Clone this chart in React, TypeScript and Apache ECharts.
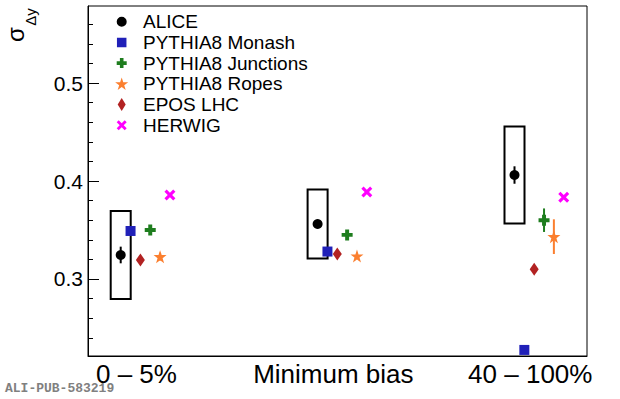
import React, { useEffect, useRef } from 'react';
import * as echarts from 'echarts';

const categories = ['0 – 5%', 'Minimum bias', '40 – 100%'];
const aliceValues = [0.3245, 0.3561, 0.4061];
const aliceStat = [0.0085, 0.003, 0.0089];
const aliceSyst = [0.045, 0.0352, 0.0495];
const monashValues = [0.349, 0.328, 0.2276];
const junctionsValues = [0.35, 0.345, 0.36];
const junctionsErr = [0.002, 0.002, 0.012];
const ropesValues = [0.3228, 0.3235, 0.3432];
const ropesErr = [0.004, 0.002, 0.0177];
const eposValues = [0.3194, 0.3255, 0.3099];
const herwigValues = [0.3857, 0.3888, 0.3834];
const yMajorTicks = [0.3, 0.4, 0.5];
const yMinorTicks = [0.24, 0.26, 0.28, 0.32, 0.34, 0.36, 0.38, 0.42, 0.44, 0.46, 0.48, 0.52, 0.54, 0.56];

const X_MIN = -0.1661;
const X_MAX = 2.3682;
const Y_MIN = 0.2214;
const Y_MAX = 0.5786;
const LABEL_OFFSET = 0.08;
const BOX_HALF = 0.0508;

const FONT = '"Liberation Sans", Arial, Helvetica, sans-serif';

// symbol shapes (scatter marks)
const PLUS = 'path://M3.2,0H6.8V3.2H10V6.8H6.8V10H3.2V6.8H0V3.2H3.2Z';
const XCROSS = 'path://M2,0L5,3L8,0L10,2L7,5L10,8L8,10L5,7L2,10L0,8L3,5L0,2Z';
const STAR = (() => {
  const pts: string[] = [];
  for (let k = 0; k < 10; k++) {
    const r = k % 2 === 0 ? 10 : 3.9;
    const a = -Math.PI / 2 + (k * Math.PI) / 5;
    pts.push((10 + r * Math.cos(a)).toFixed(3) + ',' + (10 + r * Math.sin(a)).toFixed(3));
  }
  return 'path://M' + pts.join('L') + 'Z';
})();

// legend icons, padded to a 13x13 box
const PAD = 'M-1.5,-1.5ZM11.5,11.5Z';
const L_CIRCLE = 'path://M5,0A5,5 0 1,1 5,10A5,5 0 1,1 5,0Z' + PAD;
const L_SQUARE = 'path://M0.25,0.25H9.75V9.75H0.25Z' + PAD;
const L_PLUS = PLUS + PAD;
const L_XCROSS = XCROSS + PAD;
const L_DIAMOND = 'path://M4,0L8,6.5L4,13L0,6.5Z';

const C_ALICE = '#000000';
const C_MONASH = '#2020b8';
const C_JUNC = '#1e7d1e';
const C_ROPES = '#fb7f2f';
const C_EPOS = '#b22222';
const C_HERWIG = '#ff00ff';

function errSeries(name: string, vals: number[], errs: number[], off: number, color: string, width: number) {
  return {
    type: 'custom',
    name,
    silent: true,
    z: 3,
    clip: false,
    encode: { x: 0, y: [1, 2] },
    data: vals.map((v, i) => [i + off, v - errs[i], v + errs[i]]),
    renderItem: (_p: any, api: any) => {
      const x = api.value(0);
      const a = api.coord([x, api.value(1)]);
      const b = api.coord([x, api.value(2)]);
      return {
        type: 'line',
        shape: { x1: a[0], y1: a[1], x2: b[0], y2: b[1] },
        style: { stroke: color, lineWidth: width },
      };
    },
  };
}

function pointSeries(name: string, vals: number[], off: number, color: string, symbol: string, size: any) {
  return {
    type: 'scatter',
    name,
    z: 5,
    clip: false,
    symbol,
    symbolSize: size,
    itemStyle: { color, opacity: 1 },
    data: vals.map((v, i) => [i + off, v]),
  };
}

export default function App() {
  const ref = useRef<HTMLDivElement>(null);
  useEffect(() => {
    document.body.style.margin = '0';
    if (!ref.current) return;
    const chart = echarts.init(ref.current, undefined, { renderer: 'svg' });
    const option: any = {
      animation: false,
      backgroundColor: '#ffffff',
      textStyle: { fontFamily: FONT },
      grid: {
        left: 88,
        right: 33,
        top: 6,
        bottom: 43,
        show: true,
        borderColor: '#000',
        borderWidth: 1,
        backgroundColor: 'transparent',
      },
      xAxis: {
        type: 'value',
        min: X_MIN,
        max: X_MAX,
        axisLine: { show: true, onZero: false, lineStyle: { color: '#000', width: 1 } },
        axisTick: { show: false },
        splitLine: { show: false },
        axisLabel: {
          customValues: categories.map((_, i) => i + LABEL_OFFSET),
          formatter: (v: number) => categories[Math.round(v - LABEL_OFFSET)] ?? '',
          fontSize: 26,
          color: '#000',
          margin: 5,
          fontFamily: FONT,
        },
      },
      yAxis: [
        {
          type: 'value',
          min: Y_MIN,
          max: Y_MAX,
          position: 'left',
          axisLine: { show: true, onZero: false, lineStyle: { color: '#000', width: 1 } },
          axisTick: {
            show: true,
            inside: true,
            length: 11,
            customValues: yMajorTicks,
            lineStyle: { color: '#000', width: 1 },
          },
          splitLine: { show: false },
          axisLabel: {
            customValues: yMajorTicks,
            formatter: (v: number) => v.toFixed(1),
            fontSize: 21,
            color: '#000',
            margin: 5,
            fontFamily: FONT,
          },
        },
        {
          type: 'value',
          min: Y_MIN,
          max: Y_MAX,
          position: 'left',
          offset: 0,
          axisLine: { show: false, onZero: false },
          axisTick: {
            show: true,
            inside: true,
            length: 5,
            customValues: yMinorTicks,
            lineStyle: { color: '#000', width: 1 },
          },
          splitLine: { show: false },
          axisLabel: { show: false },
        },
      ],
      legend: {
        orient: 'vertical',
        left: 115.2,
        top: 11.35,
        padding: 0,
        itemWidth: 13,
        itemHeight: 13,
        itemGap: 0,
        selectedMode: false,
        textStyle: { fontSize: 19, color: '#000', lineHeight: 20.7, padding: [0, 0, 0, 9.8], fontFamily: FONT },
        data: [
          { name: 'ALICE', icon: L_CIRCLE },
          { name: 'PYTHIA8 Monash', icon: L_SQUARE },
          { name: 'PYTHIA8 Junctions', icon: L_PLUS },
          { name: 'PYTHIA8 Ropes', icon: STAR },
          { name: 'EPOS LHC', icon: L_DIAMOND },
          { name: 'HERWIG', icon: L_XCROSS },
        ],
      },
      graphic: [
        {
          type: 'text',
          x: 15.5,
          y: 34.5,
          rotation: Math.PI / 2,
          style: { text: 'σ', fontSize: 24, fontFamily: FONT, fill: '#000', align: 'center', verticalAlign: 'middle' },
        },
        {
          type: 'text',
          x: 30,
          y: 17,
          rotation: Math.PI / 2,
          style: { text: 'Δy', fontSize: 15, fontFamily: FONT, fill: '#000', align: 'center', verticalAlign: 'middle' },
        },
        {
          type: 'text',
          left: 5,
          top: 382,
          style: {
            text: 'ALI-PUB-583219',
            font: 'bold 13px "Liberation Mono", "DejaVu Sans Mono", monospace',
            fill: '#808080',
          },
        },
      ],
      series: [
        {
          type: 'custom',
          name: 'ALICE syst',
          silent: true,
          z: 2,
          clip: false,
          encode: { x: 0, y: [1, 2] },
          data: aliceValues.map((v, i) => [i, v - aliceSyst[i], v + aliceSyst[i]]),
          renderItem: (_p: any, api: any) => {
            const x = api.value(0);
            const p1 = api.coord([x - BOX_HALF, api.value(2)]);
            const p2 = api.coord([x + BOX_HALF, api.value(1)]);
            return {
              type: 'rect',
              shape: { x: p1[0], y: p1[1], width: p2[0] - p1[0], height: p2[1] - p1[1] },
              style: { fill: 'none', stroke: '#000', lineWidth: 2 },
            };
          },
        },
        errSeries('ALICE stat', aliceValues, aliceStat, 0, C_ALICE, 2),
        errSeries('Junctions err', junctionsValues, junctionsErr, 0.15, C_JUNC, 2),
        errSeries('Ropes err', ropesValues, ropesErr, 0.2, C_ROPES, 2),
        pointSeries('ALICE', aliceValues, 0, C_ALICE, 'circle', 10),
        pointSeries('PYTHIA8 Monash', monashValues, 0.05, C_MONASH, 'rect', 10),
        pointSeries('EPOS LHC', eposValues, 0.1, C_EPOS, 'diamond', [9, 13]),
        pointSeries('PYTHIA8 Junctions', junctionsValues, 0.15, C_JUNC, PLUS, 11),
        pointSeries('PYTHIA8 Ropes', ropesValues, 0.2, C_ROPES, STAR, 13),
        pointSeries('HERWIG', herwigValues, 0.25, C_HERWIG, XCROSS, 11),
      ],
    };
    chart.setOption(option);
    return () => chart.dispose();
  }, []);
  return <div ref={ref} style={{ width: 620, height: 399 }} />;
}
